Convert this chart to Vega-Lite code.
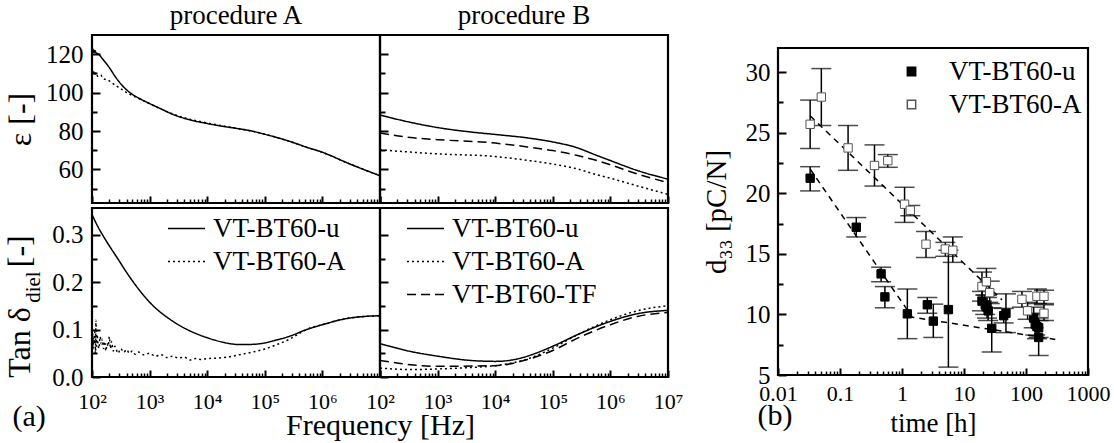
{
  "$schema": "https://vega.github.io/schema/vega-lite/v6.json",
  "padding": {"left": 2, "top": 0, "right": 0, "bottom": 0},
  "config": {
    "font": "Liberation Serif",
    "view": {"stroke": "black", "strokeWidth": 2.2},
    "axis": {"domain": false, "grid": false, "tickColor": "black", "tickWidth": 2, "labelColor": "black", "labelFontSize": 22, "titleColor": "black", "titleFontSize": 30, "titleFontWeight": "normal", "labelFlush": false, "labelOverlap": false},
    "legend": {"labelFontSize": 27, "labelColor": "black", "padding": 0},
    "title": {"fontSize": 27, "fontWeight": "normal", "color": "black"}
  },
  "datasets": {
    "epsA": [
      {"s": "VT-BT60-u", "f": 100, "v": 121.7}, {"s": "VT-BT60-u", "f": 104, "v": 122.6}, {"s": "VT-BT60-u", "f": 108, "v": 120.8}, {"s": "VT-BT60-u", "f": 112, "v": 121.9}, {"s": "VT-BT60-u", "f": 118, "v": 120.6}, {"s": "VT-BT60-u", "f": 126, "v": 120.3},
      {"s": "VT-BT60-u", "f": 153, "v": 117.5}, {"s": "VT-BT60-u", "f": 200, "v": 113}, {"s": "VT-BT60-u", "f": 251, "v": 108.5}, {"s": "VT-BT60-u", "f": 339, "v": 103.5}, {"s": "VT-BT60-u", "f": 447, "v": 100.2}, {"s": "VT-BT60-u", "f": 661, "v": 97},
      {"s": "VT-BT60-u", "f": 1000, "v": 94.3}, {"s": "VT-BT60-u", "f": 1585, "v": 91.5}, {"s": "VT-BT60-u", "f": 2512, "v": 88.7}, {"s": "VT-BT60-u", "f": 5012, "v": 85.8}, {"s": "VT-BT60-u", "f": 10000, "v": 83.9}, {"s": "VT-BT60-u", "f": 19953, "v": 82.3},
      {"s": "VT-BT60-u", "f": 36308, "v": 81.1}, {"s": "VT-BT60-u", "f": 63096, "v": 79.8}, {"s": "VT-BT60-u", "f": 100000, "v": 78.3}, {"s": "VT-BT60-u", "f": 158489, "v": 76.7}, {"s": "VT-BT60-u", "f": 269153, "v": 74.6}, {"s": "VT-BT60-u", "f": 524807, "v": 71.6},
      {"s": "VT-BT60-u", "f": 1000000, "v": 68.9}, {"s": "VT-BT60-u", "f": 2951209, "v": 62.9}, {"s": "VT-BT60-u", "f": 10000000, "v": 56.7},
      {"s": "VT-BT60-A", "f": 100, "v": 110.5}, {"s": "VT-BT60-A", "f": 105, "v": 112}, {"s": "VT-BT60-A", "f": 110, "v": 109}, {"s": "VT-BT60-A", "f": 117, "v": 110.5}, {"s": "VT-BT60-A", "f": 126, "v": 108.5}, {"s": "VT-BT60-A", "f": 141, "v": 109.2},
      {"s": "VT-BT60-A", "f": 158, "v": 107.2}, {"s": "VT-BT60-A", "f": 191, "v": 106.5}, {"s": "VT-BT60-A", "f": 224, "v": 105}, {"s": "VT-BT60-A", "f": 263, "v": 103.5}, {"s": "VT-BT60-A", "f": 316, "v": 102}, {"s": "VT-BT60-A", "f": 398, "v": 100},
      {"s": "VT-BT60-A", "f": 501, "v": 98.5}, {"s": "VT-BT60-A", "f": 661, "v": 96.8}, {"s": "VT-BT60-A", "f": 1000, "v": 94.2}, {"s": "VT-BT60-A", "f": 1585, "v": 91.4}, {"s": "VT-BT60-A", "f": 2512, "v": 88.9}, {"s": "VT-BT60-A", "f": 5012, "v": 86.1},
      {"s": "VT-BT60-A", "f": 10000, "v": 84.2}, {"s": "VT-BT60-A", "f": 19953, "v": 82.5}, {"s": "VT-BT60-A", "f": 36308, "v": 81.2}, {"s": "VT-BT60-A", "f": 63096, "v": 79.8}, {"s": "VT-BT60-A", "f": 100000, "v": 78.3}, {"s": "VT-BT60-A", "f": 158489, "v": 76.7},
      {"s": "VT-BT60-A", "f": 269153, "v": 74.6}, {"s": "VT-BT60-A", "f": 524807, "v": 71.6}, {"s": "VT-BT60-A", "f": 1000000, "v": 68.9}, {"s": "VT-BT60-A", "f": 2951209, "v": 62.9}, {"s": "VT-BT60-A", "f": 10000000, "v": 56.7}
    ],
    "epsB": [
      {"s": "VT-BT60-u", "f": 100, "v": 88.3}, {"s": "VT-BT60-u", "f": 339, "v": 84.5}, {"s": "VT-BT60-u", "f": 1000, "v": 81.8}, {"s": "VT-BT60-u", "f": 3715, "v": 79.5}, {"s": "VT-BT60-u", "f": 10000, "v": 78.2}, {"s": "VT-BT60-u", "f": 36308, "v": 76.4},
      {"s": "VT-BT60-u", "f": 100000, "v": 74.3}, {"s": "VT-BT60-u", "f": 269153, "v": 71.2}, {"s": "VT-BT60-u", "f": 524807, "v": 67.8}, {"s": "VT-BT60-u", "f": 1000000, "v": 64.6}, {"s": "VT-BT60-u", "f": 2951209, "v": 59.4}, {"s": "VT-BT60-u", "f": 10000000, "v": 54.9},
      {"s": "VT-BT60-TF", "f": 100, "v": 79}, {"s": "VT-BT60-TF", "f": 339, "v": 76.6}, {"s": "VT-BT60-TF", "f": 1000, "v": 75.5}, {"s": "VT-BT60-TF", "f": 10000, "v": 73.7}, {"s": "VT-BT60-TF", "f": 36308, "v": 71.7}, {"s": "VT-BT60-TF", "f": 100000, "v": 69.8},
      {"s": "VT-BT60-TF", "f": 269153, "v": 67.2}, {"s": "VT-BT60-TF", "f": 524807, "v": 65}, {"s": "VT-BT60-TF", "f": 1000000, "v": 62.4}, {"s": "VT-BT60-TF", "f": 2951209, "v": 57.6}, {"s": "VT-BT60-TF", "f": 10000000, "v": 53.1},
      {"s": "VT-BT60-A", "f": 100, "v": 70.2}, {"s": "VT-BT60-A", "f": 339, "v": 69}, {"s": "VT-BT60-A", "f": 1000, "v": 68.1}, {"s": "VT-BT60-A", "f": 10000, "v": 66.7}, {"s": "VT-BT60-A", "f": 36308, "v": 64.7}, {"s": "VT-BT60-A", "f": 100000, "v": 62.8},
      {"s": "VT-BT60-A", "f": 269153, "v": 60.2}, {"s": "VT-BT60-A", "f": 524807, "v": 57.6}, {"s": "VT-BT60-A", "f": 1000000, "v": 55.4}, {"s": "VT-BT60-A", "f": 2951209, "v": 51.4}, {"s": "VT-BT60-A", "f": 10000000, "v": 47}
    ],
    "tanA": [
      {"s": "VT-BT60-u", "f": 100, "v": 0.343}, {"s": "VT-BT60-u", "f": 126, "v": 0.318}, {"s": "VT-BT60-u", "f": 153, "v": 0.3}, {"s": "VT-BT60-u", "f": 200, "v": 0.277}, {"s": "VT-BT60-u", "f": 263, "v": 0.255}, {"s": "VT-BT60-u", "f": 447, "v": 0.212},
      {"s": "VT-BT60-u", "f": 1000, "v": 0.158}, {"s": "VT-BT60-u", "f": 2512, "v": 0.118}, {"s": "VT-BT60-u", "f": 4898, "v": 0.098}, {"s": "VT-BT60-u", "f": 10000, "v": 0.083}, {"s": "VT-BT60-u", "f": 18621, "v": 0.0735}, {"s": "VT-BT60-u", "f": 36308, "v": 0.0685},
      {"s": "VT-BT60-u", "f": 63096, "v": 0.069}, {"s": "VT-BT60-u", "f": 100000, "v": 0.072}, {"s": "VT-BT60-u", "f": 158489, "v": 0.078}, {"s": "VT-BT60-u", "f": 269153, "v": 0.086}, {"s": "VT-BT60-u", "f": 524807, "v": 0.1}, {"s": "VT-BT60-u", "f": 1000000, "v": 0.1105},
      {"s": "VT-BT60-u", "f": 2951209, "v": 0.1245}, {"s": "VT-BT60-u", "f": 10000000, "v": 0.1295},
      {"s": "VT-BT60-A", "f": 100, "v": 0.045}, {"s": "VT-BT60-A", "f": 102, "v": 0.1}, {"s": "VT-BT60-A", "f": 105, "v": 0.06}, {"s": "VT-BT60-A", "f": 107, "v": 0.085}, {"s": "VT-BT60-A", "f": 110, "v": 0.07}, {"s": "VT-BT60-A", "f": 112, "v": 0.095},
      {"s": "VT-BT60-A", "f": 115, "v": 0.05}, {"s": "VT-BT60-A", "f": 117, "v": 0.12}, {"s": "VT-BT60-A", "f": 120, "v": 0.065}, {"s": "VT-BT60-A", "f": 123, "v": 0.09}, {"s": "VT-BT60-A", "f": 126, "v": 0.075}, {"s": "VT-BT60-A", "f": 132, "v": 0.06},
      {"s": "VT-BT60-A", "f": 138, "v": 0.085}, {"s": "VT-BT60-A", "f": 145, "v": 0.07}, {"s": "VT-BT60-A", "f": 151, "v": 0.08}, {"s": "VT-BT60-A", "f": 158, "v": 0.06}, {"s": "VT-BT60-A", "f": 166, "v": 0.075}, {"s": "VT-BT60-A", "f": 174, "v": 0.055},
      {"s": "VT-BT60-A", "f": 182, "v": 0.07}, {"s": "VT-BT60-A", "f": 191, "v": 0.065}, {"s": "VT-BT60-A", "f": 200, "v": 0.085}, {"s": "VT-BT60-A", "f": 209, "v": 0.06}, {"s": "VT-BT60-A", "f": 219, "v": 0.075}, {"s": "VT-BT60-A", "f": 234, "v": 0.055},
      {"s": "VT-BT60-A", "f": 251, "v": 0.065}, {"s": "VT-BT60-A", "f": 282, "v": 0.05}, {"s": "VT-BT60-A", "f": 316, "v": 0.06}, {"s": "VT-BT60-A", "f": 355, "v": 0.052}, {"s": "VT-BT60-A", "f": 398, "v": 0.058}, {"s": "VT-BT60-A", "f": 447, "v": 0.05},
      {"s": "VT-BT60-A", "f": 501, "v": 0.055}, {"s": "VT-BT60-A", "f": 562, "v": 0.048}, {"s": "VT-BT60-A", "f": 631, "v": 0.053}, {"s": "VT-BT60-A", "f": 794, "v": 0.047}, {"s": "VT-BT60-A", "f": 1000, "v": 0.05}, {"s": "VT-BT60-A", "f": 1259, "v": 0.044},
      {"s": "VT-BT60-A", "f": 1585, "v": 0.047}, {"s": "VT-BT60-A", "f": 1995, "v": 0.041}, {"s": "VT-BT60-A", "f": 2512, "v": 0.044}, {"s": "VT-BT60-A", "f": 3162, "v": 0.04}, {"s": "VT-BT60-A", "f": 3981, "v": 0.042}, {"s": "VT-BT60-A", "f": 5012, "v": 0.036},
      {"s": "VT-BT60-A", "f": 6310, "v": 0.039}, {"s": "VT-BT60-A", "f": 7943, "v": 0.037}, {"s": "VT-BT60-A", "f": 10000, "v": 0.039}, {"s": "VT-BT60-A", "f": 15849, "v": 0.04}, {"s": "VT-BT60-A", "f": 25119, "v": 0.043}, {"s": "VT-BT60-A", "f": 36308, "v": 0.047},
      {"s": "VT-BT60-A", "f": 63096, "v": 0.053}, {"s": "VT-BT60-A", "f": 100000, "v": 0.059}, {"s": "VT-BT60-A", "f": 158489, "v": 0.068}, {"s": "VT-BT60-A", "f": 269153, "v": 0.08}, {"s": "VT-BT60-A", "f": 398107, "v": 0.092}, {"s": "VT-BT60-A", "f": 524807, "v": 0.1},
      {"s": "VT-BT60-A", "f": 1000000, "v": 0.1105}, {"s": "VT-BT60-A", "f": 2951209, "v": 0.1245}, {"s": "VT-BT60-A", "f": 10000000, "v": 0.1295}
    ],
    "tanB": [
      {"s": "VT-BT60-u", "f": 100, "v": 0.0705}, {"s": "VT-BT60-u", "f": 339, "v": 0.054}, {"s": "VT-BT60-u", "f": 1000, "v": 0.044}, {"s": "VT-BT60-u", "f": 3715, "v": 0.035}, {"s": "VT-BT60-u", "f": 10000, "v": 0.033}, {"s": "VT-BT60-u", "f": 23988, "v": 0.038},
      {"s": "VT-BT60-u", "f": 50119, "v": 0.05}, {"s": "VT-BT60-u", "f": 100000, "v": 0.065}, {"s": "VT-BT60-u", "f": 269153, "v": 0.0895}, {"s": "VT-BT60-u", "f": 1000000, "v": 0.1175}, {"s": "VT-BT60-u", "f": 2951209, "v": 0.1337}, {"s": "VT-BT60-u", "f": 10000000, "v": 0.1407},
      {"s": "VT-BT60-A", "f": 100, "v": 0.019}, {"s": "VT-BT60-A", "f": 339, "v": 0.0156}, {"s": "VT-BT60-A", "f": 1000, "v": 0.017}, {"s": "VT-BT60-A", "f": 3715, "v": 0.02}, {"s": "VT-BT60-A", "f": 10000, "v": 0.024}, {"s": "VT-BT60-A", "f": 36308, "v": 0.038},
      {"s": "VT-BT60-A", "f": 100000, "v": 0.061}, {"s": "VT-BT60-A", "f": 269153, "v": 0.0895}, {"s": "VT-BT60-A", "f": 1000000, "v": 0.121}, {"s": "VT-BT60-A", "f": 2951209, "v": 0.14}, {"s": "VT-BT60-A", "f": 10000000, "v": 0.1506},
      {"s": "VT-BT60-TF", "f": 100, "v": 0.035}, {"s": "VT-BT60-TF", "f": 339, "v": 0.026}, {"s": "VT-BT60-TF", "f": 1000, "v": 0.0226}, {"s": "VT-BT60-TF", "f": 10000, "v": 0.024}, {"s": "VT-BT60-TF", "f": 36308, "v": 0.037}, {"s": "VT-BT60-TF", "f": 100000, "v": 0.056},
      {"s": "VT-BT60-TF", "f": 269153, "v": 0.082}, {"s": "VT-BT60-TF", "f": 1000000, "v": 0.1105}, {"s": "VT-BT60-TF", "f": 2951209, "v": 0.128}, {"s": "VT-BT60-TF", "f": 10000000, "v": 0.1365}
    ],
    "d33": [
      {"s": "VT-BT60-u", "t": 0.033, "v": 21.25, "lo": 20.2, "hi": 22.2},
      {"s": "VT-BT60-u", "t": 0.183, "v": 17.2, "lo": 16.4, "hi": 18.0},
      {"s": "VT-BT60-u", "t": 0.46, "v": 13.35, "lo": 12.7, "hi": 13.9},
      {"s": "VT-BT60-u", "t": 0.53, "v": 11.45, "lo": 10.55, "hi": 12.3},
      {"s": "VT-BT60-u", "t": 1.22, "v": 10.05, "lo": 8.0, "hi": 12.1},
      {"s": "VT-BT60-u", "t": 2.56, "v": 10.8, "lo": 10.1, "hi": 11.4},
      {"s": "VT-BT60-u", "t": 3.2, "v": 9.45, "lo": 8.1, "hi": 10.85},
      {"s": "VT-BT60-u", "t": 5.6, "v": 10.4, "lo": 5.65, "hi": 15.3},
      {"s": "VT-BT60-u", "t": 19.5, "v": 11.1, "lo": 10.3, "hi": 11.9},
      {"s": "VT-BT60-u", "t": 22, "v": 10.8, "lo": 10.0, "hi": 11.6},
      {"s": "VT-BT60-u", "t": 23.5, "v": 10.6, "lo": 9.7, "hi": 11.4},
      {"s": "VT-BT60-u", "t": 24.5, "v": 10.3, "lo": 9.5, "hi": 11.0},
      {"s": "VT-BT60-u", "t": 28, "v": 8.85, "lo": 6.9, "hi": 10.55},
      {"s": "VT-BT60-u", "t": 43.7, "v": 9.9, "lo": 9.3, "hi": 10.5},
      {"s": "VT-BT60-u", "t": 47.5, "v": 10.1, "lo": 8.5, "hi": 11.7},
      {"s": "VT-BT60-u", "t": 133, "v": 9.7, "lo": 8.9, "hi": 10.6},
      {"s": "VT-BT60-u", "t": 141, "v": 9.2, "lo": 8.3, "hi": 10.1},
      {"s": "VT-BT60-u", "t": 150, "v": 9.0, "lo": 8.0, "hi": 10.0},
      {"s": "VT-BT60-u", "t": 160, "v": 8.9, "lo": 8.1, "hi": 9.7},
      {"s": "VT-BT60-u", "t": 160, "v": 8.1, "lo": 6.6, "hi": 9.5},
      {"s": "VT-BT60-A", "t": 0.033, "v": 25.7, "lo": 23.7, "hi": 27.7},
      {"s": "VT-BT60-A", "t": 0.05, "v": 27.95, "lo": 25.6, "hi": 30.3},
      {"s": "VT-BT60-A", "t": 0.135, "v": 23.75, "lo": 21.9, "hi": 25.6},
      {"s": "VT-BT60-A", "t": 0.36, "v": 22.3, "lo": 20.6, "hi": 24.0},
      {"s": "VT-BT60-A", "t": 0.59, "v": 22.7, "lo": 22.15, "hi": 23.2},
      {"s": "VT-BT60-A", "t": 1.1, "v": 19.1, "lo": 17.6, "hi": 20.5},
      {"s": "VT-BT60-A", "t": 1.36, "v": 18.6, "lo": 18.15, "hi": 19.0},
      {"s": "VT-BT60-A", "t": 2.44, "v": 15.8, "lo": 14.7, "hi": 16.85},
      {"s": "VT-BT60-A", "t": 5.0, "v": 15.4, "lo": 14.8, "hi": 15.95},
      {"s": "VT-BT60-A", "t": 6.6, "v": 15.3, "lo": 14.3, "hi": 16.4},
      {"s": "VT-BT60-A", "t": 19.5, "v": 12.3, "lo": 11.1, "hi": 13.5},
      {"s": "VT-BT60-A", "t": 23, "v": 12.7, "lo": 11.6, "hi": 13.8},
      {"s": "VT-BT60-A", "t": 26, "v": 11.8, "lo": 10.9, "hi": 12.75},
      {"s": "VT-BT60-A", "t": 86, "v": 11.25, "lo": 10.6, "hi": 11.9},
      {"s": "VT-BT60-A", "t": 106, "v": 10.3, "lo": 9.6, "hi": 11.0},
      {"s": "VT-BT60-A", "t": 150, "v": 11.5, "lo": 10.9, "hi": 12.1},
      {"s": "VT-BT60-A", "t": 195, "v": 11.5, "lo": 10.9, "hi": 12.0},
      {"s": "VT-BT60-A", "t": 195, "v": 10.1, "lo": 9.5, "hi": 10.8}
    ],
    "fit": [
      {"s": "VT-BT60-A", "t": 0.033, "v": 26.4}, {"s": "VT-BT60-A", "t": 41, "v": 11.2},
      {"s": "VT-BT60-u", "t": 0.033, "v": 22.0}, {"s": "VT-BT60-u", "t": 1.47, "v": 9.77}, {"s": "VT-BT60-u", "t": 297, "v": 7.94}
    ]
  },
  "hconcat": [
    {
      "vconcat": [
        {
          "hconcat": [
            {
              "width": 288, "height": 168,
              "title": {"text": "procedure A", "offset": 5},
              "data": {"name": "epsA"},
              "layer": [
                {
                  "mark": {"type": "line", "color": "black", "strokeWidth": 1.5, "interpolate": "monotone"},
                  "encoding": {
                    "x": {"field": "f", "type": "quantitative", "scale": {"type": "log", "domain": [100, 10000000], "nice": false}, "axis": {"orient": "bottom", "values": [100, 1000, 10000, 100000, 1000000, 10000000], "labels": false, "tickSize": -7, "title": null}},
                    "y": {"field": "v", "type": "quantitative", "scale": {"domain": [42.5, 130], "nice": false, "zero": false}, "axis": {"orient": "left", "values": [60, 80, 100, 120], "tickSize": -8, "labelPadding": 17, "labelFontSize": 25, "title": "ε [-]", "titleFontSize": 32, "titlePadding": 8}},
                    "strokeDash": {"field": "s", "type": "nominal", "scale": {"domain": ["VT-BT60-u", "VT-BT60-A", "VT-BT60-TF"], "range": [[1, 0], [2, 3], [9, 5]]}, "legend": null}
                  }
                },
                {
                  "mark": {"type": "point", "opacity": 0},
                  "encoding": {
                    "x": {"field": "f", "type": "quantitative", "axis": {"orient": "bottom", "values": [200, 300, 400, 500, 600, 700, 800, 900, 2000, 3000, 4000, 5000, 6000, 7000, 8000, 9000, 20000, 30000, 40000, 50000, 60000, 70000, 80000, 90000, 200000, 300000, 400000, 500000, 600000, 700000, 800000, 900000, 2000000, 3000000, 4000000, 5000000, 6000000, 7000000, 8000000, 9000000], "labels": false, "tickSize": -4, "tickWidth": 1.5, "title": null}},
                    "y": {"field": "v", "type": "quantitative", "axis": {"orient": "left", "values": [50, 70, 90, 110], "labels": false, "tickSize": -5, "title": null}}
                  }
                }
              ],
              "resolve": {"axis": {"x": "independent", "y": "independent"}}
            },
            {
              "width": 288, "height": 168,
              "title": {"text": "procedure B", "offset": 5},
              "data": {"name": "epsB"},
              "layer": [
                {
                  "mark": {"type": "line", "color": "black", "strokeWidth": 1.5, "interpolate": "monotone"},
                  "encoding": {
                    "x": {"field": "f", "type": "quantitative", "scale": {"type": "log", "domain": [100, 10000000], "nice": false}, "axis": {"orient": "bottom", "values": [100, 1000, 10000, 100000, 1000000, 10000000], "labels": false, "tickSize": -7, "title": null}},
                    "y": {"field": "v", "type": "quantitative", "scale": {"domain": [42.5, 130], "nice": false, "zero": false}, "axis": {"orient": "left", "values": [60, 80, 100, 120], "tickSize": -8, "labels": false, "title": null}},
                    "strokeDash": {"field": "s", "type": "nominal", "scale": {"domain": ["VT-BT60-u", "VT-BT60-A", "VT-BT60-TF"], "range": [[1, 0], [2, 3], [9, 5]]}, "legend": null}
                  }
                },
                {
                  "mark": {"type": "point", "opacity": 0},
                  "encoding": {
                    "x": {"field": "f", "type": "quantitative", "axis": {"orient": "bottom", "values": [200, 300, 400, 500, 600, 700, 800, 900, 2000, 3000, 4000, 5000, 6000, 7000, 8000, 9000, 20000, 30000, 40000, 50000, 60000, 70000, 80000, 90000, 200000, 300000, 400000, 500000, 600000, 700000, 800000, 900000, 2000000, 3000000, 4000000, 5000000, 6000000, 7000000, 8000000, 9000000], "labels": false, "tickSize": -4, "tickWidth": 1.5, "title": null}},
                    "y": {"field": "v", "type": "quantitative", "axis": {"orient": "left", "values": [50, 70, 90, 110], "labels": false, "tickSize": -5, "title": null}}
                  }
                }
              ],
              "resolve": {"axis": {"x": "independent", "y": "independent"}}
            }
          ],
          "spacing": 0, "bounds": "flush",
          "resolve": {"scale": {"strokeDash": "independent"}, "legend": {"strokeDash": "independent"}}
        },
        {
          "hconcat": [
            {
              "width": 288, "height": 169,
              "data": {"name": "tanA"},
              "layer": [
                {
                  "mark": {"type": "line", "color": "black", "strokeWidth": 1.5, "interpolate": "monotone"},
                  "encoding": {
                    "x": {"field": "f", "type": "quantitative", "scale": {"type": "log", "domain": [100, 10000000], "nice": false}, "axis": {"orient": "bottom", "values": [100, 1000, 10000, 100000, 1000000, 10000000], "tickSize": -7, "labelPadding": 21, "labelExpr": "datum.value > 5000000 ? '' : '10' + ['⁰','¹','²','³','⁴','⁵','⁶','⁷'][round(log(datum.value)/LN10)]", "title": null}},
                    "y": {"field": "v", "type": "quantitative", "scale": {"domain": [0, 0.357], "nice": false, "zero": false}, "axis": {"orient": "left", "values": [0, 0.1, 0.2, 0.3], "format": ".1f", "tickSize": -8, "labelPadding": 17, "labelFontSize": 25, "title": "Tan δ\u00a0\u00a0\u00a0\u00a0 [-]", "titleFontSize": 32, "titleY": 98, "titlePadding": 15}},
                    "strokeDash": {"field": "s", "type": "nominal", "scale": {"domain": ["VT-BT60-u", "VT-BT60-A"], "range": [[1, 0], [2, 3]]}, "legend": {"orient": "none", "legendX": 75, "legendY": 4, "title": null, "symbolType": "stroke", "symbolSize": 1369, "symbolStrokeWidth": 1.5, "symbolStrokeColor": "black", "labelOffset": 7, "rowPadding": 0, "clipHeight": 33}}
                  }
                },
                {
                  "mark": {"type": "point", "opacity": 0},
                  "encoding": {
                    "x": {"field": "f", "type": "quantitative", "axis": {"orient": "bottom", "values": [200, 300, 400, 500, 600, 700, 800, 900, 2000, 3000, 4000, 5000, 6000, 7000, 8000, 9000, 20000, 30000, 40000, 50000, 60000, 70000, 80000, 90000, 200000, 300000, 400000, 500000, 600000, 700000, 800000, 900000, 2000000, 3000000, 4000000, 5000000, 6000000, 7000000, 8000000, 9000000], "labels": false, "tickSize": -4, "tickWidth": 1.5, "title": "(a)", "titleX": -80, "titleY": 24, "titleAlign": "left", "titleBaseline": "top", "titleFontSize": 30}},
                    "y": {"field": "v", "type": "quantitative", "axis": {"orient": "left", "values": [0.05, 0.15, 0.25], "labels": false, "tickSize": -5, "title": null}}
                  }
                },
                {
                  "data": {"values": [{"lab": "diel"}]},
                  "mark": {"type": "text", "angle": 270, "fontSize": 21, "align": "center", "baseline": "middle", "color": "black"},
                  "encoding": {
                    "text": {"field": "lab"},
                    "x": {"datum": 10, "type": "quantitative", "axis": null},
                    "y": {"datum": 0.19, "type": "quantitative", "axis": null}
                  }
                }
              ],
              "resolve": {"axis": {"x": "independent", "y": "independent"}}
            },
            {
              "width": 288, "height": 169,
              "data": {"name": "tanB"},
              "layer": [
                {
                  "mark": {"type": "line", "color": "black", "strokeWidth": 1.5, "interpolate": "monotone"},
                  "encoding": {
                    "x": {"field": "f", "type": "quantitative", "scale": {"type": "log", "domain": [100, 10000000], "nice": false}, "axis": {"orient": "bottom", "values": [100, 1000, 10000, 100000, 1000000, 10000000], "tickSize": -7, "labelPadding": 21, "labelExpr": "'10' + ['⁰','¹','²','³','⁴','⁵','⁶','⁷'][round(log(datum.value)/LN10)]", "title": "Frequency [Hz]", "titleX": 0, "titleY": 33, "titleAlign": "center", "titleBaseline": "top", "titleFontSize": 30}},
                    "y": {"field": "v", "type": "quantitative", "scale": {"domain": [0, 0.357], "nice": false, "zero": false}, "axis": {"orient": "left", "values": [0, 0.1, 0.2, 0.3], "tickSize": -8, "labels": false, "title": null}},
                    "strokeDash": {"field": "s", "type": "nominal", "scale": {"domain": ["VT-BT60-u", "VT-BT60-A", "VT-BT60-TF"], "range": [[1, 0], [2, 3], [9, 5]]}, "legend": {"orient": "none", "legendX": 26, "legendY": 4, "title": null, "symbolType": "stroke", "symbolSize": 1369, "symbolStrokeWidth": 1.5, "symbolStrokeColor": "black", "labelOffset": 7, "rowPadding": 0, "clipHeight": 33}}
                  }
                },
                {
                  "mark": {"type": "point", "opacity": 0},
                  "encoding": {
                    "x": {"field": "f", "type": "quantitative", "axis": {"orient": "bottom", "values": [200, 300, 400, 500, 600, 700, 800, 900, 2000, 3000, 4000, 5000, 6000, 7000, 8000, 9000, 20000, 30000, 40000, 50000, 60000, 70000, 80000, 90000, 200000, 300000, 400000, 500000, 600000, 700000, 800000, 900000, 2000000, 3000000, 4000000, 5000000, 6000000, 7000000, 8000000, 9000000], "labels": false, "tickSize": -4, "tickWidth": 1.5, "title": null}},
                    "y": {"field": "v", "type": "quantitative", "axis": {"orient": "left", "values": [0.05, 0.15, 0.25], "labels": false, "tickSize": -5, "title": null}}
                  }
                }
              ],
              "resolve": {"axis": {"x": "independent", "y": "independent"}}
            }
          ],
          "spacing": 0, "bounds": "flush",
          "resolve": {"scale": {"strokeDash": "independent"}, "legend": {"strokeDash": "independent"}}
        }
      ],
      "spacing": 0,
      "resolve": {"scale": {"strokeDash": "independent"}, "legend": {"strokeDash": "independent"}}
    },
    {
      "vconcat": [
        {
          "width": 310, "height": 11,
          "view": {"stroke": null},
          "data": {"values": [{"k": 1}]},
          "mark": {"type": "point", "opacity": 0},
          "encoding": {}
        },
        {
          "width": 310, "height": 327,
          "data": {"name": "d33"},
          "layer": [
            {
              "mark": {"type": "rule", "color": "black", "strokeWidth": 1.5},
              "encoding": {
                "x": {"field": "t", "type": "quantitative", "scale": {"type": "log", "domain": [0.01, 1000], "nice": false}, "axis": {"orient": "bottom", "values": [0.01, 0.1, 1, 10, 100, 1000], "tickSize": -7, "labelPadding": 15, "labelExpr": "datum.value < 1 ? format(datum.value, '.2~f') : format(datum.value, 'd')", "title": "time [h]", "titleFontSize": 27, "titleY": 35, "titleBaseline": "top"}},
                "y": {"field": "lo", "type": "quantitative", "scale": {"domain": [5, 32], "nice": false, "zero": false}, "axis": {"orient": "left", "values": [5, 10, 15, 20, 25, 30], "tickSize": -8, "labelPadding": 16, "labelFontSize": 25, "title": "d₃₃ [pC/N]", "titleFontSize": 29, "titlePadding": 14}},
                "y2": {"field": "hi"}
              }
            },
            {
              "mark": {"type": "tick", "orient": "horizontal", "size": 20, "thickness": 1.5, "color": "black"},
              "encoding": {
                "x": {"field": "t", "type": "quantitative", "axis": {"orient": "bottom", "values": [0.02, 0.03, 0.04, 0.05, 0.06, 0.07, 0.08, 0.09, 0.2, 0.3, 0.4, 0.5, 0.6, 0.7, 0.8, 0.9, 2, 3, 4, 5, 6, 7, 8, 9, 20, 30, 40, 50, 60, 70, 80, 90, 200, 300, 400, 500, 600, 700, 800, 900], "labels": false, "tickSize": -4, "tickWidth": 1.5, "title": "(b)", "titleX": -21, "titleY": 25, "titleAlign": "left", "titleBaseline": "top", "titleFontSize": 30}},
                "y": {"field": "lo", "type": "quantitative", "axis": {"orient": "left", "values": [7.5, 12.5, 17.5, 22.5, 27.5], "labels": false, "tickSize": -5, "title": null}}
              }
            },
            {
              "mark": {"type": "tick", "orient": "horizontal", "size": 20, "thickness": 1.5, "color": "black"},
              "encoding": {
                "x": {"field": "t", "type": "quantitative", "axis": null},
                "y": {"field": "hi", "type": "quantitative", "axis": null}
              }
            },
            {
              "data": {"name": "fit"},
              "mark": {"type": "line", "color": "black", "strokeWidth": 1.5, "strokeDash": [6, 5]},
              "encoding": {
                "x": {"field": "t", "type": "quantitative", "axis": null},
                "y": {"field": "v", "type": "quantitative", "axis": null},
                "detail": {"field": "s"}
              }
            },
            {
              "mark": {"type": "point", "shape": "square", "filled": true, "size": 70, "strokeWidth": 1, "opacity": 1},
              "encoding": {
                "x": {"field": "t", "type": "quantitative", "axis": null},
                "y": {"field": "v", "type": "quantitative", "axis": null},
                "fill": {"field": "s", "type": "nominal", "scale": {"domain": ["VT-BT60-u", "VT-BT60-A"], "range": ["black", "white"]}, "legend": {"orient": "none", "legendX": 120, "legendY": 7, "title": null, "symbolType": "square", "symbolSize": 70, "labelOffset": 24, "rowPadding": 0, "clipHeight": 33}},
                "stroke": {"field": "s", "type": "nominal", "scale": {"domain": ["VT-BT60-u", "VT-BT60-A"], "range": ["black", "#555"]}, "legend": {"orient": "none", "legendX": 120, "legendY": 7, "title": null, "symbolType": "square", "symbolSize": 70, "labelOffset": 24, "rowPadding": 0, "clipHeight": 33}}
              }
            }
          ],
          "resolve": {"axis": {"x": "independent", "y": "independent"}}
        }
      ],
      "spacing": 0,
      "resolve": {"scale": {"fill": "independent", "stroke": "independent"}, "legend": {"fill": "independent", "stroke": "independent"}}
    }
  ],
  "spacing": 16,
  "resolve": {"scale": {"strokeDash": "independent", "fill": "independent", "stroke": "independent"}, "legend": {"strokeDash": "independent", "fill": "independent", "stroke": "independent"}}
}
